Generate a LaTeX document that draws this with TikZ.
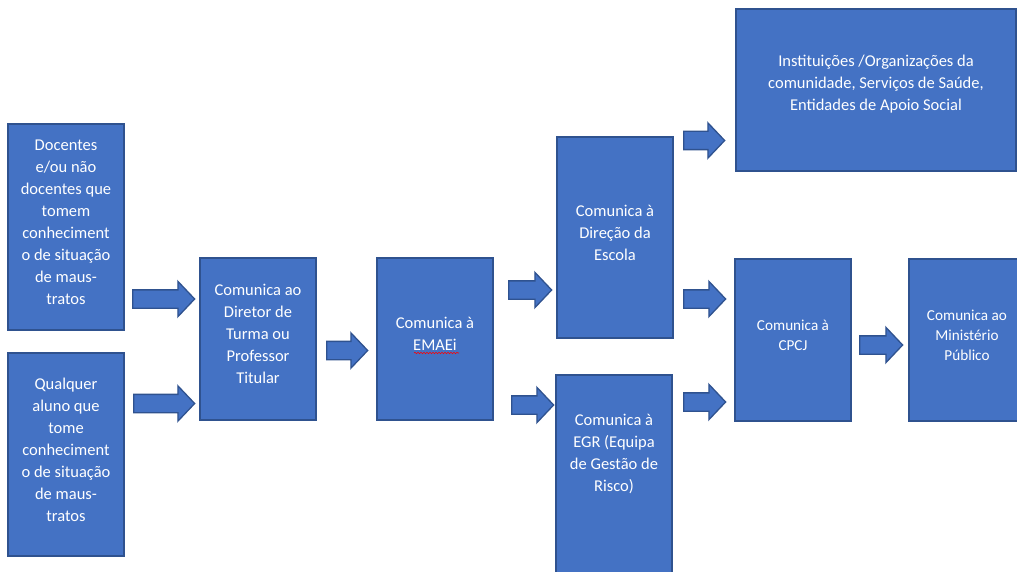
\documentclass[tikz,border=0pt]{standalone}
\usepackage{fontspec}
\setmainfont{Carlito}
\usepackage{xcolor}
\definecolor{fillblue}{RGB}{68,114,196}
\definecolor{lineblue}{RGB}{47,82,143}
\usepackage{tikz}
\usetikzlibrary{positioning, shapes.arrows, decorations.pathmorphing}
\tikzstyle{box} = [
    rectangle, align=center,
    minimum width=116pt,
    fill=fillblue,
    draw=lineblue,
    line width=1.3pt,
    text=white,
    inner sep=0pt,
    text depth=10pt,
    font=\fontsize{16.5}{22}\selectfont,
]
\tikzstyle{smallbox} = [
    box,
    font=\fontsize{15.2}{20}\selectfont,
]
\tikzstyle{boxtext} = [
    align=center,
    text=white,
    inner sep=0pt,
    font=\fontsize{16.5}{22}\selectfont,
]
\tikzstyle{blockarrow} = [
    single arrow,
    fill=fillblue,
    draw=lineblue,
    line width=1.3pt,
    inner sep=0pt,
    inner ysep=8.5pt,
    single arrow head extend=8.5pt,
    single arrow tip angle=93,
    anchor=tail,
]

\begin{document}
\begin{tikzpicture}[x=1pt,y=-1pt]
    \useasboundingbox (0,0) rectangle (1017,572);
    \clip (0,0) rectangle (1017,572);
    % boxes
    \node (docentes) at (66,227) [box, minimum height=206pt] {Docentes\\e/ou não\\docentes que\\tomem\\conheciment\\o de situação\\de maus-\\tratos};
    \node (aluno) at (66,454.5) [box, minimum height=203pt] {Qualquer\\aluno que\\tome\\conheciment\\o de situação\\de maus-\\tratos};
    \node (diretor) at (258,339) [box, minimum height=162pt] {Comunica ao\\Diretor de\\Turma ou\\Professor\\Titular};
    \node (emaei) at (435,339) [box, minimum height=162pt] {Comunica à\\EMAEi};
    \node (direcao) at (615,237.5) [box, minimum height=201pt] {Comunica à\\Direção da\\Escola};
    \node (egr) at (614,485) [box, minimum height=220pt] {};
    \node (egrtext) [boxtext, below=40pt of egr.north] {Comunica à\\EGR (Equipa\\de Gestão de\\Risco)};
    \node (instituicoes) at (876,90) [box, minimum width=280pt, minimum height=162pt, text depth=13.5pt] {Instituições /Organizações da\\comunidade, Serviços de Saúde,\\Entidades de Apoio Social};
    \node (cpcj) at (793,340) [smallbox, minimum height=162pt] {Comunica à\\CPCJ};
    \node (ministerio) at (967,340) [smallbox, minimum height=162pt] {Comunica ao\\Ministério\\Público};

    % spelling mark
    \draw [red, line width=0.6pt, decorate, decoration={snake, amplitude=0.7pt, segment length=3pt}]
    ([xshift=-21pt, yshift=-14pt]emaei.center) -- ([xshift=24pt, yshift=-14pt]emaei.center);

    % arrows
    \foreach \x/\y/\l [count=\i] in {132/299/62, 133/403.5/61, 326/350.5/41,
        508/290/43, 511/405/42, 683/140.5/41, 683/299/42, 683/402/42, 859/345/43} {
        \node (arr\i) at (\x,\y) [blockarrow, minimum height=\l] {};
    }
\end{tikzpicture}
\end{document}
